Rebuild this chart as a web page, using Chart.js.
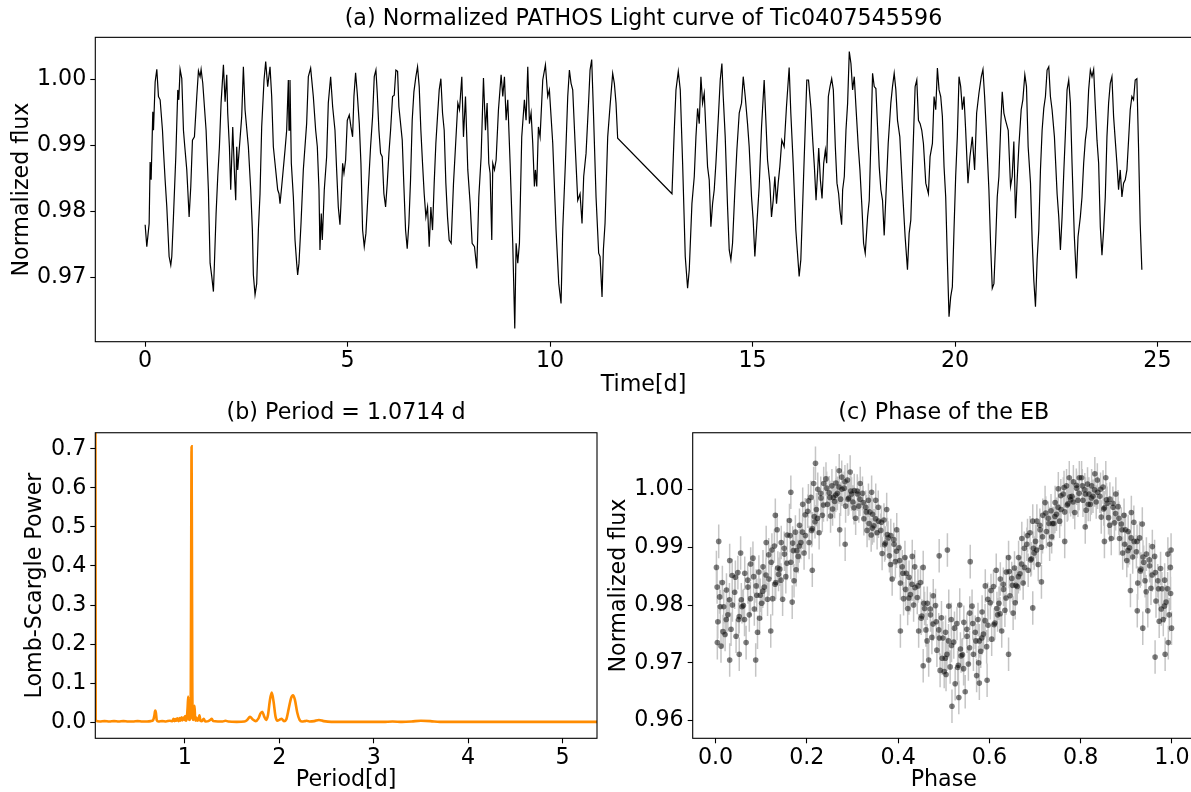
<!DOCTYPE html>
<html lang="en">
<head>
  <meta charset="UTF-8">
  <title>Tic0407545596 PATHOS light curve</title>
  <script src="https://cdn.jsdelivr.net/npm/chart.js"></script>
  <style>
    html, body { margin: 0; padding: 0; background: #fff; overflow: hidden; width: 1191px; height: 792px; }
    canvas { position: absolute; }
  </style>
</head>
<body>
  <canvas id="lcChart" width="1200" height="400" style="left:0px;top:0px"></canvas>
  <canvas id="pgChart" width="640" height="410" style="left:0px;top:390px"></canvas>
  <canvas id="phChart" width="600" height="410" style="left:600px;top:390px"></canvas>

  <script>
    // (a) light curve, time in days / normalized flux
    const lcTime = [
      0.000, 0.041, 0.099, 0.123, 0.148, 0.189, 0.206, 0.247, 0.288, 0.329,
      0.370, 0.428, 0.452, 0.493, 0.535, 0.592, 0.633, 0.658, 0.699, 0.757,
      0.806, 0.831, 0.863, 0.905, 0.946, 0.979, 1.028, 1.053, 1.086, 1.127,
      1.168, 1.217, 1.275, 1.316, 1.357, 1.382, 1.423, 1.505, 1.562, 1.604,
      1.645, 1.686, 1.711, 1.752, 1.793, 1.834, 1.875, 1.933, 1.974, 2.015,
      2.039, 2.081, 2.113, 2.163, 2.212, 2.237, 2.261, 2.286, 2.385, 2.426,
      2.467, 2.549, 2.607, 2.648, 2.673, 2.714, 2.755, 2.796, 2.837, 2.878,
      2.936, 2.977, 3.026, 3.084, 3.125, 3.166, 3.207, 3.273, 3.306, 3.331,
      3.372, 3.454, 3.495, 3.536, 3.553, 3.577, 3.610, 3.660, 3.701, 3.742,
      3.766, 3.799, 3.849, 3.906, 3.988, 4.030, 4.087, 4.153, 4.211, 4.252,
      4.293, 4.317, 4.350, 4.375, 4.424, 4.482, 4.523, 4.581, 4.630, 4.688,
      4.729, 4.770, 4.811, 4.836, 4.877, 4.910, 4.951, 4.992, 5.041, 5.082,
      5.123, 5.156, 5.197, 5.238, 5.288, 5.329, 5.370, 5.411, 5.452, 5.510,
      5.567, 5.617, 5.658, 5.699, 5.732, 5.773, 5.814, 5.855, 5.896, 5.938,
      5.979, 6.020, 6.061, 6.110, 6.151, 6.192, 6.234, 6.266, 6.308, 6.349,
      6.390, 6.431, 6.472, 6.513, 6.554, 6.595, 6.637, 6.686, 6.727, 6.768,
      6.809, 6.850, 6.891, 6.933, 6.974, 7.015, 7.056, 7.097, 7.138, 7.179,
      7.220, 7.262, 7.303, 7.344, 7.385, 7.426, 7.467, 7.508, 7.557, 7.615,
      7.664, 7.722, 7.763, 7.820, 7.861, 7.911, 7.968, 8.026, 8.075, 8.133,
      8.190, 8.240, 8.297, 8.355, 8.404, 8.445, 8.486, 8.519, 8.560, 8.585,
      8.626, 8.667, 8.725, 8.791, 8.832, 8.873, 8.914, 8.955, 9.013, 9.078,
      9.128, 9.161, 9.202, 9.243, 9.300, 9.366, 9.407, 9.449, 9.490, 9.531,
      9.572, 9.613, 9.638, 9.671, 9.712, 9.753, 9.819, 9.885, 9.942, 9.983,
      10.066, 10.148, 10.214, 10.271, 10.312, 10.378, 10.436, 10.477, 10.518, 10.559,
      10.625, 10.683, 10.740, 10.789, 10.830, 10.888, 10.954, 10.987, 11.028, 11.069,
      11.135, 11.200, 11.234, 11.283, 11.316, 11.357, 11.423, 11.480, 11.546, 11.587,
      11.628, 11.669, 13.010, 13.067, 13.109, 13.166, 13.215, 13.273, 13.338, 13.396,
      13.437, 13.503, 13.561, 13.602, 13.643, 13.684, 13.725, 13.766, 13.807, 13.848,
      13.889, 13.930, 13.971, 14.013, 14.054, 14.095, 14.161, 14.202, 14.243, 14.276,
      14.325, 14.383, 14.424, 14.465, 14.506, 14.564, 14.613, 14.671, 14.728, 14.770,
      14.819, 14.876, 14.917, 14.975, 15.016, 15.057, 15.082, 15.164, 15.222, 15.287,
      15.329, 15.370, 15.427, 15.468, 15.510, 15.551, 15.592, 15.633, 15.674, 15.723,
      15.781, 15.838, 15.904, 15.945, 16.003, 16.069, 16.110, 16.151, 16.192, 16.258,
      16.299, 16.340, 16.382, 16.445, 16.486, 16.527, 16.568, 16.609, 16.634, 16.675,
      16.716, 16.757, 16.798, 16.831, 16.872, 16.913, 16.954, 16.995, 17.044, 17.085,
      17.126, 17.159, 17.200, 17.225, 17.266, 17.307, 17.348, 17.389, 17.430, 17.471,
      17.512, 17.553, 17.611, 17.652, 17.701, 17.742, 17.783, 17.841, 17.882, 17.923,
      17.964, 18.005, 18.046, 18.087, 18.128, 18.169, 18.210, 18.251, 18.292, 18.350,
      18.415, 18.456, 18.498, 18.539, 18.580, 18.637, 18.703, 18.768, 18.826, 18.867,
      18.908, 18.966, 19.015, 19.056, 19.097, 19.138, 19.179, 19.220, 19.278, 19.343,
      19.384, 19.442, 19.483, 19.524, 19.565, 19.606, 19.647, 19.688, 19.729, 19.770,
      19.811, 19.852, 19.893, 19.934, 19.975, 20.016, 20.057, 20.099, 20.140, 20.181,
      20.222, 20.263, 20.320, 20.369, 20.427, 20.484, 20.534, 20.591, 20.649, 20.690,
      20.731, 20.772, 20.837, 20.878, 20.920, 20.961, 21.002, 21.043, 21.084, 21.125,
      21.166, 21.207, 21.248, 21.314, 21.371, 21.412, 21.453, 21.494, 21.535, 21.576,
      21.634, 21.675, 21.724, 21.765, 21.806, 21.864, 21.905, 21.946, 21.987, 22.028,
      22.069, 22.110, 22.151, 22.192, 22.233, 22.274, 22.315, 22.356, 22.397, 22.455,
      22.521, 22.562, 22.603, 22.644, 22.685, 22.726, 22.767, 22.808, 22.849, 22.890,
      22.947, 22.997, 23.038, 23.095, 23.136, 23.177, 23.218, 23.259, 23.300, 23.342,
      23.383, 23.424, 23.465, 23.506, 23.547, 23.588, 23.629, 23.670, 23.711, 23.752,
      23.793, 23.834, 23.875, 23.916, 23.957, 23.998, 24.039, 24.080, 24.122, 24.163,
      24.204, 24.245, 24.286, 24.327, 24.368, 24.409, 24.450, 24.491, 24.532, 24.573, 24.614
    ];
    const lcFlux = [
      0.9780, 0.9747, 0.9782, 0.9875, 0.9848, 0.9951, 0.9923, 0.9996, 1.0015, 0.9974,
      0.9969, 0.9923, 0.9893, 0.9848, 0.9807, 0.9732, 0.9719, 0.9732, 0.9792, 0.9883,
      0.9984, 0.9969, 1.0015, 1.0001, 0.9923, 0.9898, 0.9863, 0.9833, 0.9792, 0.9838,
      0.9908, 0.9913, 0.9974, 1.0013, 1.0004, 1.0015, 0.9994, 0.9923, 0.9833, 0.9722,
      0.9702, 0.9679, 0.9722, 0.9797, 0.9853, 0.9898, 0.9964, 1.0022, 0.9966, 1.0007,
      0.9949, 0.9898, 0.9833, 0.9928, 0.9848, 0.9817, 0.9898, 0.9863, 0.9944, 1.0019,
      0.9954, 0.9898, 0.9833, 0.9772, 0.9704, 0.9674, 0.9691, 0.9772, 0.9827, 0.9928,
      0.9999, 1.0027, 0.9989, 1.0019, 0.9974, 0.9898, 0.9873, 0.9833, 0.9827, 0.9812,
      0.9838, 0.9893, 0.9923, 0.9999, 0.9923, 0.9999, 0.9873, 0.9822, 0.9757, 0.9722,
      0.9704, 0.9722, 0.9782, 0.9863, 0.9933, 1.0004, 1.0017, 0.9974, 0.9923, 0.9898,
      0.9833, 0.9742, 0.9797, 0.9757, 0.9833, 0.9883, 0.9964, 1.0004, 0.9959, 0.9923,
      0.9863, 0.9807, 0.9780, 0.9812, 0.9873, 0.9858, 0.9878, 0.9938, 0.9946, 0.9928,
      0.9913, 0.9974, 1.0010, 0.9979, 0.9933, 0.9873, 0.9772, 0.9747, 0.9767, 0.9833,
      0.9898, 0.9944, 1.0004, 1.0014, 0.9979, 0.9923, 0.9888, 0.9883, 0.9827, 0.9807,
      0.9843, 0.9888, 0.9923, 0.9974, 0.9976, 1.0014, 1.0012, 0.9959, 0.9933, 0.9908,
      0.9838, 0.9772, 0.9744, 0.9782, 0.9848, 0.9938, 0.9981, 1.0004, 1.0019, 0.9989,
      0.9923, 0.9873, 0.9827, 0.9792, 0.9807, 0.9747, 0.9807, 0.9772, 0.9843, 0.9903,
      0.9944, 0.9984, 1.0001, 0.9949, 0.9923, 0.9843, 0.9792, 0.9757, 0.9752, 0.9843,
      0.9898, 0.9964, 0.9954, 1.0004, 0.9913, 0.9974, 0.9863, 0.9812, 0.9752, 0.9747,
      0.9714, 0.9822, 0.9883, 1.0002, 0.9923, 0.9964, 0.9873, 0.9858, 0.9757, 0.9873,
      0.9863, 0.9878, 0.9954, 1.0007, 0.9974, 1.0004, 0.9938, 0.9969, 0.9873, 0.9752,
      0.9623, 0.9752, 0.9722, 0.9752, 0.9913, 0.9969, 0.9938, 1.0019, 0.9933, 0.9949,
      0.9903, 0.9838, 0.9863, 0.9838, 0.9928, 0.9913, 0.9999, 1.0022, 0.9974, 0.9984,
      0.9903, 0.9772, 0.9691, 0.9661, 0.9772, 0.9873, 0.9974, 1.0014, 0.9994, 0.9984,
      0.9893, 0.9817, 0.9827, 0.9782, 0.9853, 0.9888, 0.9969, 1.0014, 1.0030, 0.9954,
      0.9822, 0.9737, 0.9732, 0.9671, 0.9742, 0.9782, 0.9913, 0.9959, 1.0009, 0.9994,
      0.9964, 0.9911, 0.9827, 0.9923, 0.9984, 1.0012, 0.9984, 0.9873, 0.9732, 0.9684,
      0.9712, 0.9812, 0.9853, 0.9913, 0.9956, 0.9933, 1.0004, 0.9964, 0.9979, 0.9923,
      0.9868, 0.9848, 0.9777, 0.9812, 0.9833, 0.9873, 0.9949, 0.9999, 1.0024, 0.9974,
      0.9913, 0.9807, 0.9742, 0.9727, 0.9752, 0.9833, 0.9893, 0.9949, 0.9964, 1.0004,
      0.9974, 0.9933, 0.9898, 0.9822, 0.9787, 0.9732, 0.9757, 0.9838, 0.9928, 0.9999,
      0.9938, 0.9878, 0.9843, 0.9792, 0.9817, 0.9853, 0.9812, 0.9843, 0.9868, 0.9908,
      0.9898, 0.9959, 1.0018, 0.9949, 0.9873, 0.9772, 0.9737, 0.9702, 0.9727, 0.9848,
      0.9923, 0.9999, 0.9999, 0.9954, 0.9908, 0.9868, 0.9817, 0.9863, 0.9896, 0.9848,
      0.9820, 0.9873, 0.9893, 0.9873, 0.9974, 0.9989, 1.0001, 0.9984, 0.9898, 0.9843,
      0.9827, 0.9802, 0.9780, 0.9833, 0.9853, 0.9923, 0.9964, 1.0042, 1.0024, 0.9984,
      1.0004, 0.9959, 0.9898, 0.9863, 0.9807, 0.9752, 0.9737, 0.9792, 0.9817, 0.9908,
      1.0009, 0.9989, 0.9986, 0.9928, 0.9868, 0.9833, 0.9817, 0.9764, 0.9822, 0.9903,
      0.9964, 0.9989, 1.0009, 0.9984, 0.9938, 0.9913, 0.9833, 0.9762, 0.9712, 0.9767,
      0.9787, 0.9898, 0.9989, 0.9999, 0.9938, 0.9933, 0.9923, 0.9903, 0.9843, 0.9827,
      0.9883, 0.9903, 0.9974, 0.9954, 1.0017, 0.9984, 0.9974, 0.9944, 0.9868, 0.9822,
      0.9727, 0.9641, 0.9671, 0.9686, 0.9772, 0.9853, 0.9913, 1.0004, 0.9989, 0.9954,
      0.9974, 0.9923, 0.9843, 0.9883, 0.9913, 0.9863, 0.9949, 0.9979, 1.0004, 1.0015,
      0.9974, 0.9923, 0.9833, 0.9752, 0.9684, 0.9691, 0.9752, 0.9822, 0.9853, 0.9923,
      0.9981, 0.9949, 0.9938, 0.9923, 0.9838, 0.9853, 0.9906, 0.9790, 0.9848, 0.9898,
      0.9954, 0.9969, 1.0007, 0.9989, 0.9898, 0.9843, 0.9757, 0.9696, 0.9656, 0.9727,
      0.9772, 0.9863, 0.9923, 0.9956, 0.9974, 1.0014, 1.0019, 0.9974, 0.9954, 0.9913,
      0.9827, 0.9792, 0.9742, 0.9792, 0.9858, 0.9918, 0.9984, 0.9999, 0.9964, 0.9873,
      0.9762, 0.9699, 0.9762, 0.9792, 0.9822, 0.9873, 0.9908, 0.9928, 0.9984, 1.0014,
      1.0004, 1.0015, 0.9959, 0.9908, 0.9873, 0.9777, 0.9734, 0.9772, 0.9822, 0.9913,
      0.9964, 0.9994, 1.0004, 0.9944, 0.9908, 0.9873, 0.9833, 0.9863, 0.9822, 0.9843,
      0.9848, 0.9863, 0.9908, 0.9954, 0.9974, 0.9969, 0.9999, 1.0001, 0.9898, 0.9782, 0.9712
    ];
    const lcTicksX = [0, 5, 10, 15, 20, 25];
    const lcTicksY = [0.97, 0.98, 0.99, 1.00];

    // (b) Lomb-Scargle periodogram
    const pgPeriod = [
      0.053, 0.056, 0.10, 0.15, 0.20, 0.25, 0.30, 0.35, 0.40, 0.45,
      0.50, 0.55, 0.60, 0.64, 0.665, 0.678, 0.686, 0.694, 0.702, 0.72,
      0.76, 0.80, 0.84, 0.87, 0.88, 0.89, 0.90, 0.91, 0.92, 0.935,
      0.945, 0.955, 0.965, 0.975, 0.985, 0.995, 1.003, 1.012, 1.022, 1.030,
      1.036, 1.042, 1.05, 1.058, 1.063, 1.067, 1.0714, 1.075, 1.079, 1.084,
      1.090, 1.097, 1.103, 1.109, 1.117, 1.123, 1.130, 1.145, 1.155, 1.165,
      1.18, 1.20, 1.21, 1.22, 1.25, 1.27, 1.285, 1.30, 1.35, 1.40,
      1.43, 1.46, 1.55, 1.63, 1.66, 1.69, 1.72, 1.75, 1.78, 1.80,
      1.82, 1.84, 1.86, 1.88, 1.90, 1.92, 1.94, 1.96, 1.98, 2.00,
      2.025, 2.05, 2.075, 2.10, 2.125, 2.145, 2.165, 2.19, 2.215, 2.24,
      2.27, 2.29, 2.32, 2.37, 2.42, 2.47, 2.55, 2.7, 2.9, 3.1,
      3.2, 3.3, 3.4, 3.5, 3.6, 3.7, 3.9, 4.2, 4.5, 4.8,
      5.1, 5.364
    ];
    const pgPower = [
      0.90, 0.004, 0.002, 0.003, 0.002, 0.003, 0.002, 0.003, 0.002, 0.002,
      0.003, 0.002, 0.002, 0.003, 0.006, 0.018, 0.030, 0.024, 0.006, 0.002,
      0.003, 0.002, 0.004, 0.003, 0.009, 0.003, 0.008, 0.004, 0.010, 0.003,
      0.011, 0.004, 0.013, 0.005, 0.012, 0.006, 0.016, 0.004, 0.012, 0.040,
      0.066, 0.012, 0.006, 0.010, 0.08, 0.40, 0.706, 0.45, 0.10, 0.012,
      0.006, 0.025, 0.042, 0.008, 0.004, 0.012, 0.004, 0.006, 0.018, 0.004,
      0.003, 0.009, 0.004, 0.002, 0.003, 0.006, 0.009, 0.003, 0.002, 0.002,
      0.004, 0.002, 0.001, 0.002, 0.006, 0.014, 0.007, 0.003, 0.010, 0.022,
      0.027, 0.015, 0.006, 0.018, 0.055, 0.076, 0.052, 0.015, 0.004, 0.006,
      0.009, 0.003, 0.008, 0.035, 0.062, 0.069, 0.058, 0.025, 0.006, 0.002,
      0.003, 0.004, 0.002, 0.003, 0.006, 0.003, 0.001, 0.001, 0.001, 0.001,
      0.002, 0.001, 0.002, 0.004, 0.003, 0.001, 0.001, 0.001, 0.001, 0.001,
      0.001, 0.001
    ];
    const pgTicksX = [1, 2, 3, 4, 5];
    const pgTicksY = [0.0, 0.1, 0.2, 0.3, 0.4, 0.5, 0.6, 0.7];

    // (c) folded light curve
    const phase = [
      0.002, 0.005, 0.009, 0.012, 0.015, 0.018, 0.021, 0.024, 0.027, 0.031, 0.034, 0.037,
      0.042, 0.045, 0.049, 0.052, 0.055, 0.058, 0.061, 0.064, 0.067, 0.071, 0.074, 0.077,
      0.082, 0.085, 0.089, 0.092, 0.095, 0.098, 0.101, 0.104, 0.107, 0.111, 0.114, 0.117,
      0.122, 0.125, 0.129, 0.132, 0.135, 0.138, 0.141, 0.144, 0.147, 0.151, 0.154, 0.157,
      0.162, 0.165, 0.169, 0.172, 0.175, 0.178, 0.181, 0.184, 0.187, 0.191, 0.194, 0.197,
      0.202, 0.205, 0.209, 0.212, 0.215, 0.218, 0.221, 0.224, 0.227, 0.231, 0.234, 0.237,
      0.242, 0.245, 0.249, 0.252, 0.255, 0.258, 0.261, 0.264, 0.267, 0.271, 0.274, 0.277,
      0.282, 0.285, 0.289, 0.292, 0.295, 0.298, 0.301, 0.304, 0.307, 0.311, 0.314, 0.317,
      0.322, 0.325, 0.329, 0.332, 0.335, 0.338, 0.341, 0.344, 0.347, 0.351, 0.354, 0.357,
      0.362, 0.365, 0.369, 0.372, 0.375, 0.378, 0.381, 0.384, 0.387, 0.391, 0.394, 0.397,
      0.402, 0.405, 0.409, 0.412, 0.415, 0.418, 0.421, 0.424, 0.427, 0.431, 0.434, 0.437,
      0.442, 0.445, 0.449, 0.452, 0.455, 0.458, 0.461, 0.464, 0.467, 0.471, 0.474, 0.477,
      0.482, 0.485, 0.489, 0.492, 0.495, 0.498, 0.501, 0.504, 0.507, 0.511, 0.514, 0.517,
      0.522, 0.525, 0.529, 0.532, 0.535, 0.538, 0.541, 0.544, 0.547, 0.551, 0.554, 0.557,
      0.562, 0.565, 0.569, 0.572, 0.575, 0.578, 0.581, 0.584, 0.587, 0.591, 0.594, 0.597,
      0.602, 0.605, 0.609, 0.612, 0.615, 0.618, 0.621, 0.624, 0.627, 0.631, 0.634, 0.637,
      0.642, 0.645, 0.649, 0.652, 0.655, 0.658, 0.661, 0.664, 0.667, 0.671, 0.674, 0.677,
      0.682, 0.685, 0.689, 0.692, 0.695, 0.698, 0.701, 0.704, 0.707, 0.711, 0.714, 0.717,
      0.722, 0.725, 0.729, 0.732, 0.735, 0.738, 0.741, 0.744, 0.747, 0.751, 0.754, 0.757,
      0.762, 0.765, 0.769, 0.772, 0.775, 0.778, 0.781, 0.784, 0.787, 0.791, 0.794, 0.797,
      0.802, 0.805, 0.809, 0.812, 0.815, 0.818, 0.821, 0.824, 0.827, 0.831, 0.834, 0.837,
      0.842, 0.845, 0.849, 0.852, 0.855, 0.858, 0.861, 0.864, 0.867, 0.871, 0.874, 0.877,
      0.882, 0.885, 0.889, 0.892, 0.895, 0.898, 0.901, 0.904, 0.907, 0.911, 0.914, 0.917,
      0.922, 0.925, 0.929, 0.932, 0.935, 0.938, 0.941, 0.944, 0.947, 0.951, 0.954, 0.957,
      0.962, 0.965, 0.969, 0.972, 0.975, 0.978, 0.981, 0.984, 0.987, 0.991, 0.994, 0.997,
      0.004, 0.007, 0.031, 0.052, 0.088, 0.121, 0.131, 0.165, 0.168, 0.212, 0.219, 0.272,
      0.284, 0.342, 0.405, 0.455, 0.490, 0.505, 0.508, 0.518, 0.533, 0.558, 0.578, 0.595,
      0.642, 0.695, 0.714, 0.765, 0.810, 0.852, 0.909, 0.924, 0.936, 0.963, 0.985, 0.992,
      0.998, 0.999,
      0.0035, 0.0105, 0.0165, 0.0235, 0.0305, 0.0365, 0.0435, 0.0505, 0.0565, 0.0635, 0.0705, 0.0765,
      0.0835, 0.0905, 0.0965, 0.1035, 0.1105, 0.1165, 0.1235, 0.1305, 0.1365, 0.1435, 0.1505, 0.1565,
      0.1635, 0.1705, 0.1765, 0.1835, 0.1905, 0.1965, 0.2035, 0.2105, 0.2165, 0.2235, 0.2305, 0.2365,
      0.2435, 0.2505, 0.2565, 0.2635, 0.2705, 0.2765, 0.2835, 0.2905, 0.2965, 0.3035, 0.3105, 0.3165,
      0.3235, 0.3305, 0.3365, 0.3435, 0.3505, 0.3565, 0.3635, 0.3705, 0.3765, 0.3835, 0.3905, 0.3965,
      0.4035, 0.4105, 0.4165, 0.4235, 0.4305, 0.4365, 0.4435, 0.4505, 0.4565, 0.4635, 0.4705, 0.4765,
      0.4835, 0.4905, 0.4965, 0.5035, 0.5105, 0.5165, 0.5235, 0.5305, 0.5365, 0.5435, 0.5505, 0.5565,
      0.5635, 0.5705, 0.5765, 0.5835, 0.5905, 0.5965, 0.6035, 0.6105, 0.6165, 0.6235, 0.6305, 0.6365,
      0.6435, 0.6505, 0.6565, 0.6635, 0.6705, 0.6765, 0.6835, 0.6905, 0.6965, 0.7035, 0.7105, 0.7165,
      0.7235, 0.7305, 0.7365, 0.7435, 0.7505, 0.7565, 0.7635, 0.7705, 0.7765, 0.7835, 0.7905, 0.7965,
      0.8035, 0.8105, 0.8165, 0.8235, 0.8305, 0.8365, 0.8435, 0.8505, 0.8565, 0.8635, 0.8705, 0.8765,
      0.8835, 0.8905, 0.8965, 0.9035, 0.9105, 0.9165, 0.9235, 0.9305, 0.9365, 0.9435, 0.9505, 0.9565,
      0.9635, 0.9705, 0.9765, 0.9835, 0.9905, 0.9965
    ];
    const phaseFlux = [
      0.9865, 0.9771, 0.9814, 0.9729, 0.9839, 0.9797, 0.9749, 0.9826, 0.9783, 0.9877, 0.9758, 0.9800,
      0.9822, 0.9746, 0.9856, 0.9780, 0.9890, 0.9797, 0.9799, 0.9855, 0.9735, 0.9831, 0.9783, 0.9871,
      0.9881, 0.9793, 0.9833, 0.9753, 0.9857, 0.9817, 0.9803, 0.9866, 0.9831, 0.9908, 0.9810, 0.9845,
      0.9874, 0.9811, 0.9902, 0.9839, 0.9930, 0.9853, 0.9862, 0.9908, 0.9810, 0.9888, 0.9849, 0.9921,
      0.9946, 0.9874, 0.9907, 0.9842, 0.9926, 0.9894, 0.9884, 0.9938, 0.9908, 0.9974, 0.9890, 0.9920,
      0.9962, 0.9908, 0.9986, 0.9932, 1.0010, 0.9944, 0.9965, 1.0000, 0.9925, 0.9985, 0.9955, 1.0010,
      1.0018, 0.9974, 0.9994, 0.9954, 1.0006, 0.9986, 0.9979, 1.0011, 0.9993, 1.0032, 0.9983, 1.0000,
      1.0002, 0.9971, 1.0016, 0.9985, 1.0030, 0.9992, 0.9978, 0.9998, 0.9950, 0.9992, 0.9971, 1.0010,
      0.9993, 0.9949, 0.9969, 0.9929, 0.9981, 0.9961, 0.9921, 0.9957, 0.9937, 0.9981, 0.9925, 0.9945,
      0.9929, 0.9889, 0.9947, 0.9907, 0.9965, 0.9916, 0.9885, 0.9920, 0.9845, 0.9905, 0.9875, 0.9930,
      0.9899, 0.9838, 0.9866, 0.9811, 0.9882, 0.9855, 0.9794, 0.9848, 0.9818, 0.9884, 0.9800, 0.9830,
      0.9813, 0.9755, 0.9839, 0.9781, 0.9865, 0.9794, 0.9757, 0.9803, 0.9705, 0.9783, 0.9744, 0.9816,
      0.9799, 0.9722, 0.9757, 0.9687, 0.9778, 0.9743, 0.9685, 0.9753, 0.9715, 0.9798, 0.9693, 0.9730,
      0.9736, 0.9664, 0.9768, 0.9696, 0.9800, 0.9712, 0.9714, 0.9770, 0.9650, 0.9746, 0.9698, 0.9786,
      0.9798, 0.9715, 0.9753, 0.9678, 0.9775, 0.9738, 0.9720, 0.9788, 0.9750, 0.9833, 0.9728, 0.9765,
      0.9804, 0.9741, 0.9832, 0.9769, 0.9860, 0.9783, 0.9803, 0.9845, 0.9755, 0.9827, 0.9791, 0.9857,
      0.9882, 0.9816, 0.9846, 0.9786, 0.9864, 0.9834, 0.9832, 0.9882, 0.9854, 0.9915, 0.9838, 0.9865,
      0.9905, 0.9860, 0.9925, 0.9880, 0.9945, 0.9890, 0.9910, 0.9945, 0.9870, 0.9930, 0.9900, 0.9955,
      0.9977, 0.9927, 0.9950, 0.9905, 0.9963, 0.9941, 0.9941, 0.9977, 0.9957, 1.0001, 0.9945, 0.9965,
      0.9992, 0.9961, 1.0006, 0.9975, 1.0020, 0.9982, 0.9988, 1.0013, 0.9960, 1.0002, 0.9981, 1.0020,
      1.0020, 0.9981, 0.9999, 0.9964, 1.0009, 0.9992, 0.9974, 1.0006, 0.9988, 1.0027, 0.9978, 0.9995,
      0.9988, 0.9952, 1.0004, 0.9968, 1.0020, 0.9976, 0.9951, 0.9983, 0.9915, 0.9969, 0.9942, 0.9992,
      0.9970, 0.9915, 0.9940, 0.9890, 0.9955, 0.9930, 0.9877, 0.9927, 0.9899, 0.9960, 0.9883, 0.9910,
      0.9892, 0.9838, 0.9916, 0.9862, 0.9940, 0.9874, 0.9842, 0.9888, 0.9790, 0.9868, 0.9829, 0.9901,
      0.9884, 0.9807, 0.9842, 0.9772, 0.9863, 0.9828, 0.9775, 0.9843, 0.9805, 0.9888, 0.9783, 0.9820,
      0.9735, 0.9910, 0.9705, 0.9715, 0.9705, 0.9755, 0.9955, 0.9995, 0.9805, 0.9860, 1.0045, 0.9930,
      0.9905, 0.9995, 0.9755, 0.9695, 0.9885, 0.9680, 0.9895, 0.9625, 0.9640, 0.9875, 0.9665, 0.9670,
      0.9715, 0.9795, 0.9840, 0.9910, 0.9935, 0.9910, 0.9825, 0.9790, 0.9760, 0.9710, 0.9715, 0.9735,
      0.9895, 0.9760,
      0.9831, 0.9797, 0.9754, 0.9775, 0.9809, 0.9851, 0.9848, 0.9775, 0.9809, 0.9775, 0.9843, 0.9811,
      0.9849, 0.9817, 0.9777, 0.9824, 0.9852, 0.9887, 0.9895, 0.9836, 0.9864, 0.9843, 0.9898, 0.9872,
      0.9920, 0.9894, 0.9861, 0.9902, 0.9926, 0.9956, 0.9980, 0.9929, 0.9953, 0.9950, 0.9993, 0.9973,
      1.0002, 0.9986, 0.9966, 0.9990, 1.0004, 1.0021, 1.0013, 0.9983, 0.9997, 0.9968, 0.9997, 0.9983,
      0.9977, 0.9961, 0.9941, 0.9933, 0.9949, 0.9969, 0.9943, 0.9904, 0.9922, 0.9870, 0.9913, 0.9893,
      0.9877, 0.9855, 0.9827, 0.9812, 0.9836, 0.9866, 0.9833, 0.9777, 0.9803, 0.9738, 0.9793, 0.9767,
      0.9771, 0.9743, 0.9708, 0.9708, 0.9738, 0.9775, 0.9760, 0.9692, 0.9724, 0.9690, 0.9758, 0.9726,
      0.9768, 0.9738, 0.9700, 0.9743, 0.9773, 0.9810, 0.9825, 0.9766, 0.9794, 0.9785, 0.9836, 0.9812,
      0.9858, 0.9834, 0.9804, 0.9849, 0.9871, 0.9898, 0.9920, 0.9878, 0.9898, 0.9895, 0.9938, 0.9918,
      0.9959, 0.9941, 0.9918, 0.9953, 0.9969, 0.9989, 1.0003, 0.9973, 0.9987, 0.9978, 1.0007, 0.9993,
      1.0006, 0.9992, 0.9974, 0.9985, 0.9999, 1.0016, 1.0000, 0.9966, 0.9982, 0.9938, 0.9976, 0.9958,
      0.9950, 0.9930, 0.9905, 0.9894, 0.9916, 0.9943, 0.9910, 0.9859, 0.9883, 0.9823, 0.9878, 0.9852,
      0.9856, 0.9828, 0.9793, 0.9798, 0.9828, 0.9865
    ];
    const FLUX_ERR = 0.0029;
    const phTicksX = [0.0, 0.2, 0.4, 0.6, 0.8, 1.0];
    const phTicksY = [0.96, 0.97, 0.98, 0.99, 1.00];

    const FS = 22.2;
    Chart.defaults.font.family = "'DejaVu Sans', sans-serif";
    Chart.defaults.font.size = FS;
    Chart.defaults.color = '#000';

    // full box around the axes, like matplotlib spines
    const frame = {
      id: 'frame',
      afterDatasetsDraw(chart) {
        const { ctx, chartArea: a } = chart;
        ctx.save();
        ctx.strokeStyle = '#000';
        ctx.lineWidth = 1.1;
        ctx.strokeRect(a.left, a.top, a.right - a.left, a.bottom - a.top);
        ctx.restore();
      }
    };

    function axis(min, max, ticks, fmt, title, size, titlePad, tickPad) {
      return {
        type: 'linear',
        min: min,
        max: max,
        afterBuildTicks: s => { s.ticks = ticks.map(v => ({ value: v })); },
        afterFit: s => { if (s.isHorizontal()) s.height = size; else s.width = size; },
        ticks: { callback: fmt, color: '#000', padding: tickPad, autoSkip: false, maxRotation: 0 },
        grid: { drawOnChartArea: false, drawTicks: true, tickLength: 5, tickWidth: 1.1, tickColor: '#000' },
        border: { display: false },
        title: { display: true, text: title, color: '#000', padding: titlePad }
      };
    }

    function titleOpts(text, top, bottom) {
      return {
        display: true, text: text, color: '#000', fullSize: false,
        font: { size: FS, weight: 'normal' },
        padding: { top: top, bottom: bottom }
      };
    }

    const base = { responsive: false, animation: false, devicePixelRatio: 1, events: [] };

    // (a)
    new Chart(document.getElementById('lcChart'), {
      type: 'scatter',
      data: {
        datasets: [{
          data: lcTime.map((t, i) => ({ x: t, y: lcFlux[i] })),
          showLine: true, borderColor: '#000', borderWidth: 1.2, pointRadius: 0, tension: 0
        }]
      },
      options: Object.assign({}, base, {
        layout: { padding: { left: 0, right: 8.3, top: 0, bottom: 0 } },
        plugins: {
          legend: { display: false }, tooltip: { enabled: false },
          title: titleOpts('(a) Normalized PATHOS Light curve of Tic0407545596', 5.7, 5.0)
        },
        scales: {
          x: axis(-1.231, 25.845, lcTicksX, v => String(v), 'Time[d]', 58.3, { top: 0, bottom: 1.7 }, 1.3),
          y: axis(0.96032, 1.00635, lcTicksY, v => v.toFixed(2), 'Normalized flux', 95.3, { top: 8.7, bottom: 0 }, 4)
        }
      }),
      plugins: [frame]
    });

    // (b)
    new Chart(document.getElementById('pgChart'), {
      type: 'scatter',
      data: {
        datasets: [{
          data: pgPeriod.map((p, i) => ({ x: p, y: pgPower[i] })),
          showLine: true, borderColor: '#ff8c00', borderWidth: 2.6, pointRadius: 0,
          cubicInterpolationMode: 'monotone'
        }]
      },
      options: Object.assign({}, base, {
        layout: { padding: { left: 0, right: 43, top: 0, bottom: 0 } },
        plugins: {
          legend: { display: false }, tooltip: { enabled: false },
          title: titleOpts('(b) Period = 1.0714 d', 9.7, 6.4)
        },
        scales: {
          x: axis(0.052, 5.364, pgTicksX, v => String(v), 'Period[d]', 61.7, { top: 0, bottom: 6.7 }, 1.3),
          y: axis(-0.041, 0.741, pgTicksY, v => v.toFixed(1), 'Lomb-Scargle Power', 95.3, { top: 21.7, bottom: 0 }, 4)
        }
      }),
      plugins: [frame]
    });

    // (c)
    const errSegs = [];
    phase.forEach((p, i) => {
      errSegs.push({ x: p, y: phaseFlux[i] - FLUX_ERR }, { x: p, y: phaseFlux[i] + FLUX_ERR }, { x: p, y: null });
    });
    new Chart(document.getElementById('phChart'), {
      type: 'scatter',
      data: {
        datasets: [
          {
            data: phase.map((p, i) => ({ x: p, y: phaseFlux[i] })),
            pointRadius: 2.8, pointBackgroundColor: 'rgba(0,0,0,0.5)', pointBorderWidth: 0, order: 0
          },
          {
            data: errSegs, showLine: true, spanGaps: false,
            borderColor: 'rgba(150,150,150,0.55)', borderWidth: 1.5, pointRadius: 0, order: 1
          }
        ]
      },
      options: Object.assign({}, base, {
        layout: { padding: { left: 0, right: 5.2, top: 0, bottom: 0 } },
        plugins: {
          legend: { display: false }, tooltip: { enabled: false },
          title: titleOpts('(c) Phase of the EB', 9.7, 6.4)
        },
        scales: {
          x: axis(-0.05, 1.05, phTicksX, v => v.toFixed(1), 'Phase', 61.7, { top: 0, bottom: 6.7 }, 1.3),
          y: axis(0.95696, 1.00978, phTicksY, v => v.toFixed(2), 'Normalized flux', 92.7, { top: 5.7, bottom: 0 }, 4)
        }
      }),
      plugins: [frame]
    });
  </script>
</body>
</html>
